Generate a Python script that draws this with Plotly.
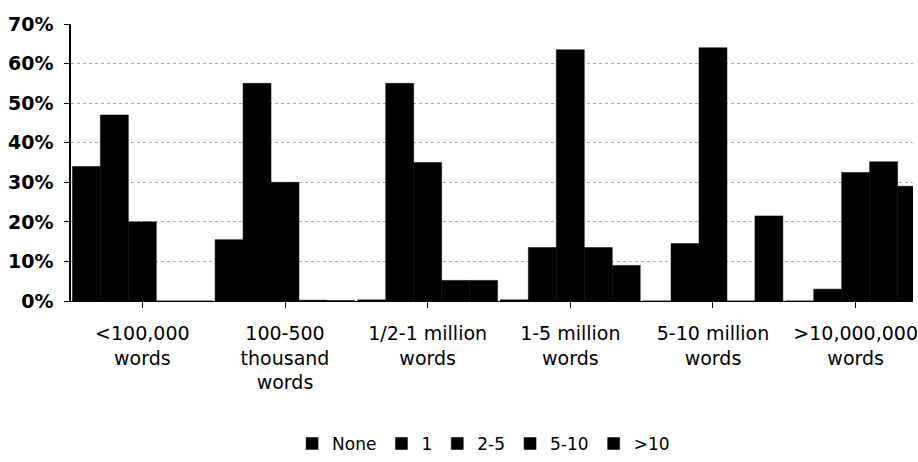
import plotly.graph_objects as go

categories = ["<100,000<br>words", "100-500<br>thousand<br>words", "1/2-1 million<br>words",
              "1-5 million<br>words", "5-10 million<br>words", ">10,000,000<br>words"]
series_names = ["None", "1", "2-5", "5-10", ">10"]
none_vals = [0.34, 0.155, 0.003, 0.003, 0.0, 0.0]
one_vals = [0.47, 0.55, 0.55, 0.135, 0.145, 0.03]
two_five_vals = [0.20, 0.30, 0.35, 0.635, 0.64, 0.325]
five_ten_vals = [0.0, 0.002, 0.052, 0.135, 0.0, 0.352]
over_ten_vals = [0.0, 0.001, 0.052, 0.09, 0.215, 0.29]
series_values = [none_vals, one_vals, two_five_vals, five_ten_vals, over_ten_vals]
y_tickvals = [0, 0.1, 0.2, 0.3, 0.4, 0.5, 0.6, 0.7]
y_ticktext = ["0%", "10%", "20%", "30%", "40%", "50%", "60%", "70%"]

fig = go.Figure()
for name, vals in zip(series_names, series_values):
    fig.add_trace(go.Bar(
        x=list(range(len(categories))), y=vals, name=name,
        marker=dict(color="black", line=dict(color="black", width=0.5)),
    ))

fig.update_layout(
    width=918, height=462,
    margin=dict(l=71, r=0, t=24, b=155),
    paper_bgcolor="white", plot_bgcolor="white",
    barmode="group", bargap=0.02, bargroupgap=0,
    font=dict(family="DejaVu Sans", color="black"),
    showlegend=True,
    legend=dict(orientation="h", x=0.49, xanchor="center", y=-0.516, yanchor="middle",
                font=dict(size=17, family="DejaVu Sans", color="black"),
                itemwidth=30, tracegroupgap=0),
)
fig.update_xaxes(
    range=[-0.5, 5.402], tickmode="array", tickvals=list(range(len(categories))),
    ticktext=categories, tickson="boundaries", ticks="outside", ticklen=6,
    tickcolor="black", showline=True, linecolor="black", linewidth=1,
    showgrid=False, zeroline=False, tickangle=0, ticklabeloverflow="allow",
    tickfont=dict(size=19, family="DejaVu Sans", color="black"),
    ticklabelstandoff=9,
)
fig.update_yaxes(
    range=[0, 0.70], tickmode="array", tickvals=y_tickvals, ticktext=y_ticktext,
    ticks="outside", ticklen=5, tickcolor="black",
    showline=True, linecolor="black", linewidth=1.5,
    showgrid=True, gridcolor="#aaaaaa", griddash="dot", gridwidth=1,
    zeroline=False,
    tickfont=dict(size=19, family="DejaVu Sans", color="black", weight="bold"),
    ticklabelstandoff=7,
)
fig.write_html("out.html")
